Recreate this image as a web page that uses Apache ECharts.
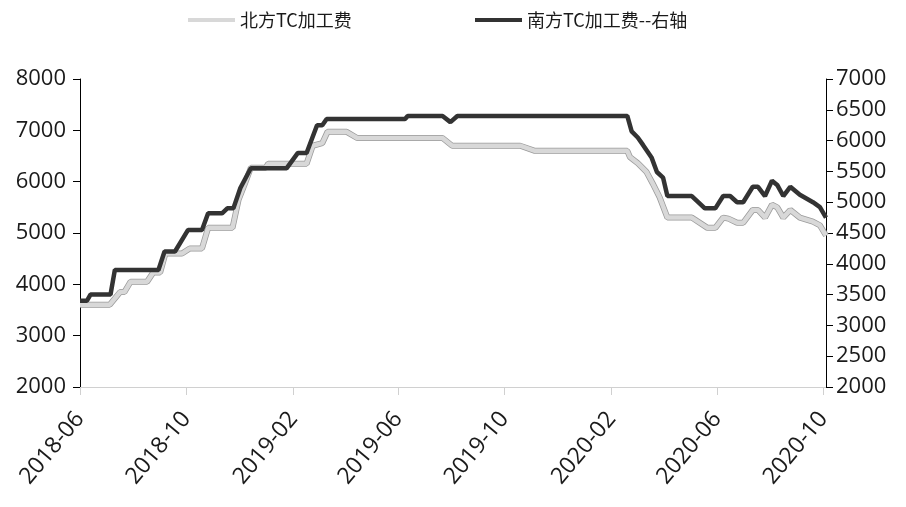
<!DOCTYPE html>
<html><head><meta charset="utf-8">
<script src="https://cdn.jsdelivr.net/npm/echarts@6/dist/echarts.min.js"></script>
<style>html,body{margin:0;padding:0;background:#fff}#c{width:906px;height:507px}</style>
</head><body><div id="c"></div>
<script>
// 北方TC加工费 (left axis)
const northDates = ['2018-06-01','2018-07-05','2018-07-17','2018-07-22','2018-07-29','2018-08-17','2018-08-24','2018-09-01','2018-09-07','2018-09-26','2018-10-05','2018-10-19','2018-10-26','2018-11-23','2018-11-30','2018-12-07','2018-12-14','2018-12-31','2019-01-03','2019-02-16','2019-02-23','2019-03-06','2019-03-12','2019-04-03','2019-04-15','2019-07-22','2019-08-02','2019-10-19','2019-11-05','2020-02-19','2020-02-22','2020-03-02','2020-03-12','2020-03-19','2020-03-27','2020-04-05','2020-05-03','2020-05-21','2020-05-30','2020-06-08','2020-06-14','2020-06-24','2020-07-01','2020-07-12','2020-07-18','2020-07-26','2020-08-03','2020-08-09','2020-08-16','2020-08-24','2020-09-04','2020-09-19','2020-09-27','2020-10-04'];
const northValues = [3600,3600,3850,3850,4050,4050,4230,4230,4600,4600,4700,4700,5100,5100,5650,5950,6270,6270,6350,6350,6700,6750,6970,6970,6850,6850,6700,6700,6600,6600,6480,6360,6190,5970,5700,5300,5300,5100,5100,5300,5280,5200,5200,5450,5450,5300,5550,5500,5300,5450,5300,5220,5150,4950];
// 南方TC加工费--右轴 (right axis)
const southDates = ['2018-06-01','2018-06-09','2018-06-13','2018-07-06','2018-07-11','2018-08-30','2018-09-06','2018-09-18','2018-10-03','2018-10-19','2018-10-26','2018-11-11','2018-11-17','2018-11-24','2018-12-02','2018-12-14','2019-01-24','2019-02-06','2019-02-16','2019-02-28','2019-03-06','2019-03-11','2019-06-09','2019-06-12','2019-07-22','2019-07-31','2019-08-08','2020-02-19','2020-02-24','2020-03-02','2020-03-08','2020-03-18','2020-03-24','2020-03-31','2020-04-05','2020-05-03','2020-05-18','2020-05-30','2020-06-08','2020-06-16','2020-06-24','2020-07-01','2020-07-12','2020-07-18','2020-07-26','2020-08-03','2020-08-09','2020-08-16','2020-08-24','2020-09-04','2020-09-19','2020-09-27','2020-10-04'];
const southValues = [3400,3400,3500,3500,3900,3900,4200,4200,4550,4550,4820,4820,4900,4900,5230,5550,5550,5800,5800,6250,6250,6350,6350,6400,6400,6300,6400,6400,6150,6050,5930,5720,5490,5400,5100,5100,4900,4900,5100,5100,5000,5000,5250,5250,5100,5350,5280,5100,5250,5120,5000,4920,4750];
const tickDates = ['2018-06-01','2018-10-01','2019-02-01','2019-06-01','2019-10-01','2020-02-01','2020-06-01','2020-10-01'];
const tickLabels = ['2018-06','2018-10','2019-02','2019-06','2019-10','2020-02','2020-06','2020-10'];
const names = ['北方TC加工费','南方TC加工费--右轴'];

const origin = Date.UTC(2018,5,1);
function dayOf(s){const p=s.split('-');return (Date.UTC(+p[0],+p[1]-1,+p[2])-origin)/86400000;}
const tickDays = tickDates.map(dayOf);
const pair = (ds,vs)=>ds.map((d,i)=>[dayOf(d),vs[i]]);
const xMax = dayOf('2020-10-04');

const chart = echarts.init(document.getElementById('c'));
const FONT = 'Open Sans, Liberation Sans, sans-serif';
const legendText = {fontFamily:'Noto Sans CJK SC', fontSize:18, color:'#1a1a1a'};
chart.setOption({
  animation:false,
  backgroundColor:'#fff',
  grid:{left:80,right:80,top:79,bottom:120},
  legend:[
    {left:183, top:6, itemWidth:47, itemHeight:4, icon:'rect', textStyle:legendText, data:[names[0]]},
    {left:470, top:6, itemWidth:47, itemHeight:4, icon:'rect', textStyle:legendText, data:[names[1]]}
  ],
  xAxis:{
    type:'value', min:0, max:xMax,
    axisLine:{lineStyle:{color:'#d0d0d0',width:1}},
    axisTick:{show:true,length:8,lineStyle:{color:'#d0d0d0'},customValues:tickDays},
    axisLabel:{rotate:50,margin:28,fontFamily:FONT,fontSize:23,color:'#1a1a1a',customValues:tickDays,
      formatter:(v)=>{const i=tickDays.findIndex(t=>Math.abs(t-v)<0.5);return i>=0?tickLabels[i]:'';}},
    splitLine:{show:false}
  },
  yAxis:[
    {type:'value',min:2000,max:8000,interval:1000,position:'left',
     axisLine:{show:true,lineStyle:{color:'#000',width:1}},
     axisTick:{show:true,length:7,lineStyle:{color:'#000'}},
     axisLabel:{margin:14,fontFamily:FONT,fontSize:22,color:'#1a1a1a',formatter:(v)=>String(v)},
     splitLine:{show:false}},
    {type:'value',min:2000,max:7000,interval:500,position:'right',
     axisLine:{show:true,lineStyle:{color:'#000',width:1}},
     axisTick:{show:true,length:7,lineStyle:{color:'#000'}},
     axisLabel:{margin:10,fontFamily:FONT,fontSize:22,color:'#1a1a1a',formatter:(v)=>String(v)},
     splitLine:{show:false}}
  ],
  series:[
    {name:'outline',type:'line',yAxisIndex:0,showSymbol:false,symbol:'none',silent:true,
     data:pair(northDates,northValues),
     lineStyle:{color:'#9a9a9a',width:6},itemStyle:{color:'#9a9a9a'}},
    {name:names[0],type:'line',yAxisIndex:0,showSymbol:false,symbol:'none',
     data:pair(northDates,northValues),
     lineStyle:{color:'#d8d8d8',width:4.5},
     itemStyle:{color:'#d8d8d8'}},
    {name:names[1],type:'line',yAxisIndex:1,showSymbol:false,symbol:'none',
     data:pair(southDates,southValues),
     lineStyle:{color:'#333333',width:4.5},
     itemStyle:{color:'#333333'}}
  ]
});
</script></body></html>
